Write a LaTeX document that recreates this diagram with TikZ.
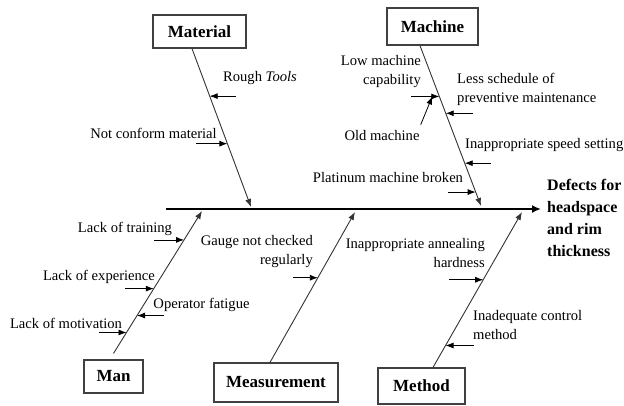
\documentclass[tikz,border=0pt]{standalone}
\usepackage{fontspec}
\setmainfont{Liberation Serif}
\usetikzlibrary{arrows.meta}
\tikzset{
  catbox/.style={draw=black!75,line width=1.2pt,inner sep=0pt,font=\fontsize{17}{20}\selectfont\bfseries},
  cause/.style={inner sep=0pt,font=\fontsize{14.6}{19}\selectfont},
  bone/.style={draw=black!80,line width=0.9pt,-{Latex[length=8pt,width=6pt]}},
  sub/.style={line width=0.8pt,-{Latex[length=8pt,width=6pt]}},
  spine/.style={line width=2.6pt,-{Latex[length=9pt,width=8pt]}}
}
\begin{document}
\begin{tikzpicture}[x=1pt,y=-1pt]
\useasboundingbox (0,0) rectangle (624,405);
% head and spine
\coordinate (tail) at (166,209);
\node[inner sep=0pt,anchor=west,align=left,font=\fontsize{16}{22}\selectfont\bfseries] (effect) at (547,218) {Defects for\\headspace\\and rim\\thickness};
\draw[spine] (tail) -- ([xshift=-6pt]tail -| effect.west);
% category boxes
\node[catbox,minimum width=93pt,minimum height=33pt] (material) at (199.5,31.5) {Material};
\node[catbox,minimum width=91pt,minimum height=37pt] (machine) at (432.5,26.5) {Machine};
\node[catbox,minimum width=59pt,minimum height=33pt] (man) at (113.5,376.5) {Man};
\node[catbox,minimum width=124pt,minimum height=39pt] (measurement) at (276,382.5) {Measurement};
\node[catbox,minimum width=87pt,minimum height=36pt] (method) at (421.5,386) {Method};
% bones
\coordinate (matend) at (251,207);
\coordinate (macend) at (481,206);
\coordinate (manend) at (202,211);
\coordinate (measend) at (355,212);
\coordinate (metend) at (522,212);
\draw[bone] ([xshift=-7.5pt]material.south) -- coordinate[pos=.30] (mat1) coordinate[pos=.60] (mat2) (matend);
\draw[bone] ([xshift=-12.5pt]machine.south) -- coordinate[pos=.317] (mac1) coordinate[pos=.422] (mac2) coordinate[pos=.733] (mac3) coordinate[pos=.913] (mac4) (macend);
\draw[bone] ([yshift=6pt]man.north) -- coordinate[pos=.147] (man1) coordinate[pos=.266] (man2) coordinate[pos=.455] (man3) coordinate[pos=.797] (man4) (manend);
\draw[bone] ([xshift=-6pt]measurement.north) -- coordinate[pos=.563] (mea1) (measend);
\draw[bone] ([xshift=11.5pt]method.north) -- coordinate[pos=.141] (met1) coordinate[pos=.564] (met2) (metend);
% material
\node[cause] (rough) at (260,78) {Rough \textit{Tools}};
\draw[sub] ([xshift=26pt]mat1) -- (mat1);
\node[cause] (conform) at (153.5,133) {Not conform material};
\draw[sub] ([xshift=-31pt]mat2) -- (mat2);
% machine
\node[cause,anchor=east,align=right] (lowcap) at (421,72) {Low machine\\capability};
\draw[sub] ([xshift=-28pt]mac1) -- (mac1);
\node[cause] (oldmac) at (382,136) {Old machine};
\draw[sub] ([xshift=1pt,yshift=6pt]oldmac.north east) -- ([xshift=-7pt]mac1);
\node[cause,anchor=west,align=left] (schedule) at (457,89) {Less schedule of\\preventive maintenance};
\draw[sub] ([xshift=27pt]mac2) -- (mac2);
\node[cause,anchor=west] (speed) at (465,145) {Inappropriate speed setting};
\draw[sub] ([xshift=26pt]mac3) -- (mac3);
\node[cause] (platinum) at (388,178) {Platinum machine broken};
\draw[sub] ([xshift=-28pt]mac4) -- (mac4);
% man
\node[cause] (training) at (125,229) {Lack of training};
\draw[sub] ([xshift=-30pt]man4) -- (man4);
\node[cause] (experience) at (99,277) {Lack of experience};
\draw[sub] ([xshift=-29pt]man3) -- (man3);
\node[cause] (fatigue) at (201.5,305) {Operator fatigue};
\draw[sub] ([xshift=27pt]man2) -- (man2);
\node[cause] (motivation) at (66,323) {Lack of motivation};
\draw[sub] ([xshift=-28pt]man1) -- (man1);
% measurement
\node[cause,anchor=east,align=right] (gauge) at (313,252) {Gauge not checked\\regularly};
\draw[sub] ([xshift=-25pt]mea1) -- (mea1);
% method
\node[cause,anchor=east,align=right] (annealing) at (485,253) {Inappropriate annealing\\hardness};
\draw[sub] ([xshift=-34pt]met2) -- (met2);
\node[cause,anchor=west,align=left] (control) at (473,325) {Inadequate control\\method};
\draw[sub] ([xshift=28pt]met1) -- (met1);
\end{tikzpicture}
\end{document}
